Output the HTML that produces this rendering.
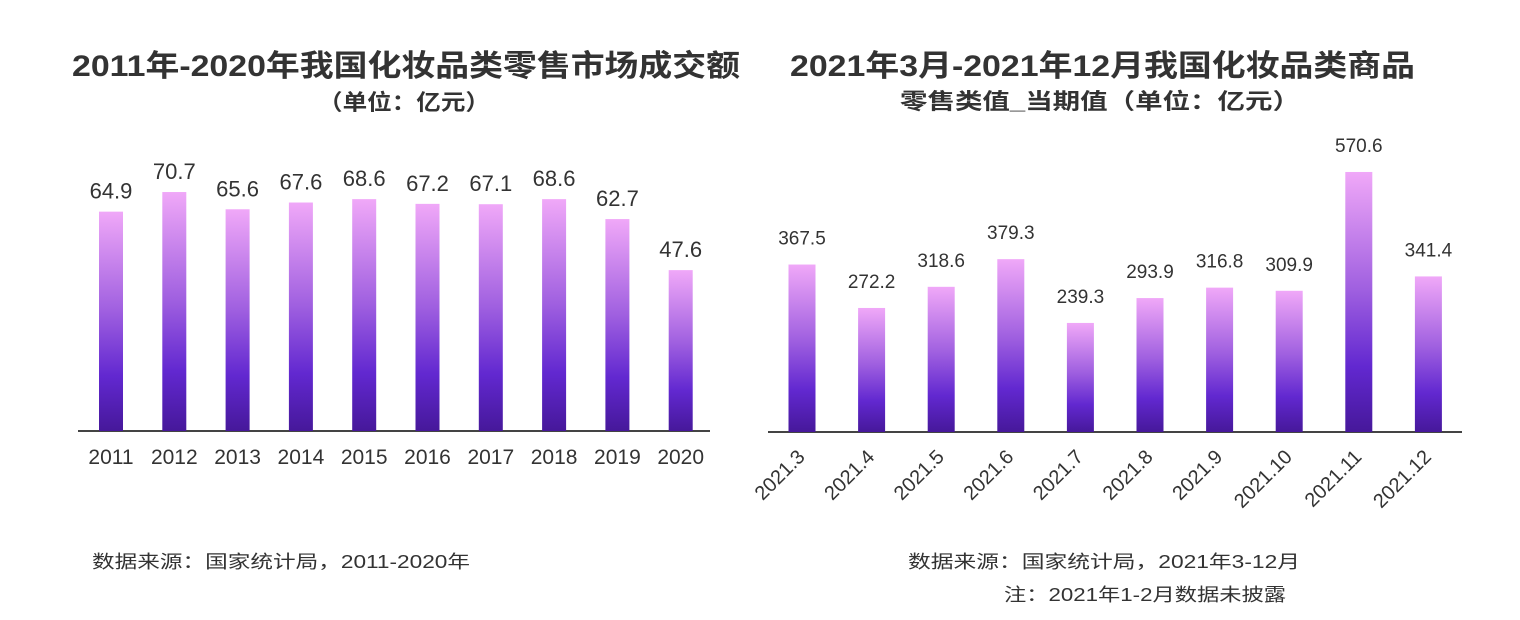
<!DOCTYPE html>
<html><head><meta charset="utf-8"><style>
html,body{margin:0;padding:0;background:#fff;}
svg{display:block;}
text{font-family:"Liberation Sans","Noto Sans CJK SC",sans-serif;fill:#333;}
</style></head><body>
<svg width="1520" height="620" viewBox="0 0 1520 620" xmlns="http://www.w3.org/2000/svg">
<defs>
<linearGradient id="g" x1="0" y1="0" x2="0" y2="1">
<stop offset="0" stop-color="#f0a8f8"/>
<stop offset="0.45" stop-color="#a060e0"/>
<stop offset="0.75" stop-color="#6228d0"/>
<stop offset="1" stop-color="#46189a"/>
</linearGradient>
</defs>
<text x="72" y="76" font-size="30" font-weight="bold" textLength="668" lengthAdjust="spacingAndGlyphs">2011年-2020年我国化妆品类零售市场成交额</text>
<text x="318" y="110" font-size="22" font-weight="bold" textLength="172" lengthAdjust="spacingAndGlyphs">（单位：亿元）</text>
<text x="790" y="76" font-size="30" font-weight="bold" textLength="625" lengthAdjust="spacingAndGlyphs">2021年3月-2021年12月我国化妆品类商品</text>
<text x="900" y="109" font-size="22" font-weight="bold" textLength="400" lengthAdjust="spacingAndGlyphs">零售类值_当期值（单位：亿元）</text>
<line x1="78" y1="431" x2="710" y2="431" stroke="#444" stroke-width="2"/>
<line x1="768" y1="432" x2="1462" y2="432" stroke="#444" stroke-width="2"/>
<text x="92" y="568" font-size="18" textLength="378" lengthAdjust="spacingAndGlyphs">数据来源：国家统计局，2011-2020年</text>
<text x="908" y="568" font-size="18" textLength="392" lengthAdjust="spacingAndGlyphs">数据来源：国家统计局，2021年3-12月</text>
<text x="1004" y="601" font-size="18" textLength="282" lengthAdjust="spacingAndGlyphs">注：2021年1-2月数据未披露</text>
<script>
var s=document.querySelector('svg'),ns='http://www.w3.org/2000/svg';
function el(t,a,txt){var e=document.createElementNS(ns,t);for(var k in a)e.setAttribute(k,a[k]);if(txt)e.textContent=txt;s.appendChild(e);}
var L=[64.9,70.7,65.6,67.6,68.6,67.2,67.1,68.6,62.7,47.6];
L.forEach(function(v,i){var cx=111+i*63.3,h=v*3.38,top=431-h;
el('rect',{x:cx-12,y:top,width:24,height:h,fill:'url(#g)'});
el('text',{x:cx,y:top-13,'font-size':22,'text-anchor':'middle'},v.toFixed(1));
el('text',{x:cx,y:464,'font-size':21,'text-anchor':'middle'},String(2011+i));});
var R=[367.5,272.2,318.6,379.3,239.3,293.9,316.8,309.9,570.6,341.4];
R.forEach(function(v,i){var cx=802+i*69.6,h=v*0.4557,top=432-h;
el('rect',{x:cx-13.5,y:top,width:27,height:h,fill:'url(#g)'});
el('text',{x:cx,y:top-20,'font-size':19,'text-anchor':'middle'},v.toFixed(1));
var lx=cx+4,ly=458;
el('text',{x:lx,y:ly,'font-size':20,'text-anchor':'end',transform:'rotate(-45 '+lx+' '+ly+')'},'2021.'+(3+i));});
</script>
</svg>
</body></html>
